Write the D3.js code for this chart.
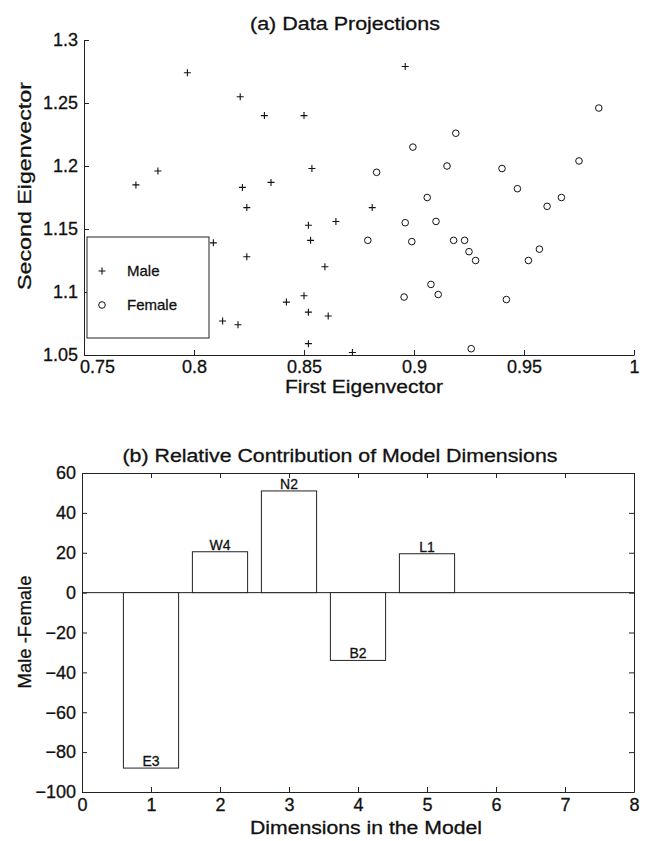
<!DOCTYPE html>
<html>
<head>
<meta charset="utf-8">
<script src="https://cdn.jsdelivr.net/npm/d3@7"></script>
<style>
  body { margin: 0; background: #fff; }
  svg { font-family: 'Liberation Sans', Arial, Helvetica, sans-serif; }
  text { stroke: #111; stroke-width: 0.3px; }
  .tick text { font-size: 18px; fill: #111; }
  .label, .title { font-size: 18px; fill: #111; }
  .legend text { font-size: 15px; fill: #111; }
  .barlabel { font-size: 14px; fill: #111; }
</style>
</head>
<body>
<svg id="chart"></svg>
<script>

// ---- data (a) projections
const maleX = [0.7736, 0.7836, 0.797, 0.821, 0.832, 0.850, 0.822, 0.835, 0.8536, 0.896, 0.824, 0.852, 0.853,
               0.8088, 0.824, 0.8595, 0.842, 0.850, 0.852, 0.861, 0.813, 0.820, 0.852, 0.881, 0.8645, 0.872]
const maleY = [1.185, 1.196, 1.274, 1.255, 1.240, 1.240, 1.183, 1.187, 1.198, 1.279, 1.167, 1.153, 1.141,
               1.139, 1.128, 1.120, 1.092, 1.097, 1.084, 1.081, 1.077, 1.074, 1.059, 1.167, 1.156, 1.052]
const femaleX = [0.984, 0.919, 0.8995, 0.915, 0.883, 0.940, 0.975, 0.947, 0.906, 0.967, 0.9605, 0.896, 0.910,
                 0.879, 0.899, 0.918, 0.923, 0.925, 0.928, 0.957, 0.952, 0.9077, 0.8955, 0.911, 0.942, 0.926]
const femaleY = [1.246, 1.226, 1.215, 1.200, 1.195, 1.198, 1.204, 1.182, 1.175, 1.175, 1.168, 1.155, 1.156,
                 1.141, 1.140, 1.141, 1.141, 1.132, 1.125, 1.134, 1.125, 1.106, 1.096, 1.098, 1.094, 1.055]
const xTicksA = [0.75, 0.8, 0.85, 0.9, 0.95, 1]
const yTicksA = [1.05, 1.1, 1.15, 1.2, 1.25, 1.3]

// ---- data (b) contribution of dimensions
const dims = [1, 2, 3, 4, 5]
const dimNames = ['E3', 'W4', 'N2', 'B2', 'L1']
const dimValues = [-88, 20.5, 51, -34, 19.5]
const xTicksB = [0, 1, 2, 3, 4, 5, 6, 7, 8]
const yTicksB = [-100, -80, -60, -40, -20, 0, 20, 40, 60]

const svg = d3.select('#chart').attr('width', 650).attr('height', 841)
const tk = 5 // inward ticks, matlab style

//*********** CHART A **********************
const xA = d3.scaleLinear().domain([0.75, 1]).range([84, 634])
const yA = d3.scaleLinear().domain([1.05, 1.3]).range([355, 40])

const chartA = svg.append('g')

chartA.append('g')
  .attr('transform', 'translate(0,355)')
  .call(d3.axisBottom(xA).tickValues(xTicksA).tickFormat(d => d === 1 ? '1' : d3.format('')(d))
    .tickSizeInner(-tk).tickSizeOuter(0).tickPadding(4))
  .call(g => g.selectAll('.tick text').attr('dy', '0.78em')
    .attr('dx', d => d === 0.75 ? 13 : 0))

chartA.append('g')
  .attr('transform', 'translate(84,0)')
  .call(d3.axisLeft(yA).tickValues(yTicksA).tickFormat(d3.format(''))
    .tickSizeInner(-tk).tickSizeOuter(0).tickPadding(6))

chartA.selectAll('.domain, .tick line').attr('stroke', '#222')

// male: plus signs
const males = maleX.map((x, i) => ({x: x, y: maleY[i]}))
const females = femaleX.map((x, i) => ({x: x, y: femaleY[i]}))

chartA.selectAll('.male').data(males).enter().append('path')
  .attr('class', 'male')
  .attr('d', d => {
    const px = xA(d.x), py = yA(d.y)
    return `M${px - 3.5},${py}H${px + 3.5}M${px},${py - 3.5}V${py + 3.5}`
  })
  .attr('stroke', '#111').attr('stroke-width', 1.1)

chartA.selectAll('.female').data(females).enter().append('circle')
  .attr('class', 'female')
  .attr('cx', d => xA(d.x)).attr('cy', d => yA(d.y)).attr('r', 3.3)
  .attr('fill', 'none').attr('stroke', '#111').attr('stroke-width', 1)

// legend
const legend = chartA.append('g').attr('class', 'legend')
legend.append('rect').attr('x', 87).attr('y', 237).attr('width', 122).attr('height', 101)
  .attr('fill', '#fff').attr('stroke', '#222')
legend.append('path').attr('d', 'M98.5,271H105.5M102,267.5V274.5').attr('stroke', '#111').attr('stroke-width', 1.1)
legend.append('circle').attr('cx', 102).attr('cy', 305).attr('r', 3.3).attr('fill', 'none').attr('stroke', '#111')
legend.append('text').attr('x', 127).attr('y', 276).text('Male')
legend.append('text').attr('x', 127).attr('y', 310).text('Female')

svg.append('text').attr('class', 'title')
  .attr('x', 345).attr('y', 30).attr('text-anchor', 'middle')
  .attr('textLength', 190).attr('lengthAdjust', 'spacingAndGlyphs')
  .text('(a) Data Projections')

svg.append('text').attr('class', 'label')
  .attr('x', 364).attr('y', 393).attr('text-anchor', 'middle')
  .attr('textLength', 158).attr('lengthAdjust', 'spacingAndGlyphs')
  .text('First Eigenvector')

svg.append('text').attr('class', 'label')
  .attr('transform', 'translate(31,186) rotate(-90)').attr('text-anchor', 'middle')
  .attr('textLength', 208).attr('lengthAdjust', 'spacingAndGlyphs')
  .text('Second Eigenvector')

//*********** CHART B **********************
const xB = d3.scaleLinear().domain([0, 8]).range([82, 634])
const yB = d3.scaleLinear().domain([-100, 60]).range([792, 473])
const barW = xB(0.8) - xB(0)

const chartB = svg.append('g')

chartB.append('g')
  .attr('transform', 'translate(0,792)')
  .call(d3.axisBottom(xB).tickValues(xTicksB).tickSizeInner(-tk).tickSizeOuter(0).tickPadding(4))
  .call(g => g.selectAll('.tick text').attr('dy', '0.85em'))

chartB.append('g')
  .attr('transform', 'translate(82,0)')
  .call(d3.axisLeft(yB).tickValues(yTicksB).tickSizeInner(-tk).tickSizeOuter(0).tickPadding(6))

// top + right frame with inward ticks, no labels
chartB.append('g')
  .attr('transform', 'translate(0,473)')
  .call(d3.axisTop(xB).tickValues(xTicksB).tickSizeInner(-tk).tickSizeOuter(0).tickFormat(''))

chartB.append('g')
  .attr('transform', 'translate(634,0)')
  .call(d3.axisRight(yB).tickValues(yTicksB).tickSizeInner(-tk).tickSizeOuter(0).tickFormat(''))

chartB.selectAll('.domain, .tick line').attr('stroke', '#222')

// zero line
chartB.append('line')
  .attr('x1', xB(0)).attr('x2', xB(8)).attr('y1', yB(0)).attr('y2', yB(0))
  .attr('stroke', '#222')

const bars = dims.map((d, i) => ({dim: d, name: dimNames[i], v: dimValues[i]}))

const barGroups = chartB.selectAll('.bargroup').data(bars).enter().append('g').attr('class', 'bargroup')

barGroups.append('rect')
  .attr('x', d => xB(d.dim) - barW / 2)
  .attr('y', d => yB(Math.max(0, d.v)))
  .attr('width', barW)
  .attr('height', d => Math.abs(yB(d.v) - yB(0)))
  .attr('fill', '#fff').attr('stroke', '#222')

barGroups.append('text')
  .attr('class', 'barlabel')
  .attr('x', d => xB(d.dim))
  .attr('y', d => yB(d.v) - 2)
  .attr('text-anchor', 'middle')
  .text(d => d.name)

svg.append('text').attr('class', 'title')
  .attr('x', 340).attr('y', 462).attr('text-anchor', 'middle')
  .attr('textLength', 435).attr('lengthAdjust', 'spacingAndGlyphs')
  .text('(b) Relative Contribution of Model Dimensions')

svg.append('text').attr('class', 'label')
  .attr('x', 366).attr('y', 834).attr('text-anchor', 'middle')
  .attr('textLength', 232).attr('lengthAdjust', 'spacingAndGlyphs')
  .text('Dimensions in the Model')

svg.append('text').attr('class', 'label')
  .attr('transform', 'translate(31,632) rotate(-90)').attr('text-anchor', 'middle')
  .attr('textLength', 113).attr('lengthAdjust', 'spacingAndGlyphs')
  .text('Male -Female')

</script>
</body>
</html>
